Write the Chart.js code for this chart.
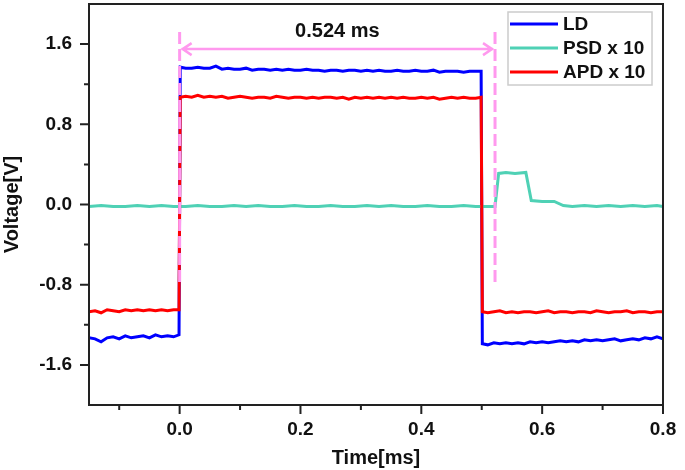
<!DOCTYPE html>
<html>
<head>
<meta charset="utf-8">
<title>LD / PSD / APD pulse response</title>
<script src="https://cdn.jsdelivr.net/npm/chart.js@4.4.1/dist/chart.umd.min.js"></script>
<style>
    html, body { margin: 0; padding: 0; background: #ffffff; }
    #pulseChart { display: block; }
</style>
</head>
<body>
<canvas id="pulseChart" width="685" height="470"></canvas>
<script>
// Time axis (ms) shared by the LD and APD traces
const timeMs = [-0.15, -0.14, -0.13, -0.12, -0.11, -0.10, -0.09, -0.08, -0.07, -0.06, -0.05, -0.04, -0.03, -0.02, -0.01, -0.001,
    0.001, 0.01, 0.02, 0.03, 0.04, 0.05, 0.06, 0.07, 0.08, 0.09, 0.10, 0.11, 0.12, 0.13, 0.14, 0.15, 0.16, 0.17, 0.18, 0.19,
    0.20, 0.21, 0.22, 0.23, 0.24, 0.25, 0.26, 0.27, 0.28, 0.29, 0.30, 0.31, 0.32, 0.33, 0.34, 0.35, 0.36, 0.37, 0.38, 0.39,
    0.40, 0.41, 0.42, 0.43, 0.44, 0.45, 0.46, 0.47, 0.48, 0.49, 0.499,
    0.501, 0.51, 0.52, 0.53, 0.54, 0.55, 0.56, 0.57, 0.58, 0.59, 0.60, 0.61, 0.62, 0.63, 0.64, 0.65, 0.66, 0.67, 0.68, 0.69,
    0.70, 0.71, 0.72, 0.73, 0.74, 0.75, 0.76, 0.77, 0.78, 0.79, 0.80];

// LD voltage (V)
const ldVolt = [-1.33, -1.34, -1.37, -1.33, -1.32, -1.34, -1.31, -1.33, -1.32, -1.31, -1.33, -1.30, -1.32, -1.31, -1.32, -1.30,
    1.37, 1.36, 1.36, 1.37, 1.36, 1.36, 1.38, 1.35, 1.36, 1.35, 1.35, 1.36, 1.34, 1.35, 1.35, 1.34, 1.35, 1.34, 1.35, 1.34,
    1.34, 1.35, 1.34, 1.34, 1.33, 1.34, 1.34, 1.33, 1.34, 1.34, 1.33, 1.34, 1.33, 1.34, 1.33, 1.33, 1.34, 1.33, 1.33, 1.34,
    1.33, 1.33, 1.34, 1.32, 1.33, 1.33, 1.33, 1.32, 1.33, 1.33, 1.33,
    -1.39, -1.40, -1.38, -1.39, -1.38, -1.39, -1.38, -1.39, -1.37, -1.38, -1.37, -1.38, -1.37, -1.36, -1.37, -1.36, -1.37, -1.35, -1.36, -1.35,
    -1.36, -1.35, -1.34, -1.36, -1.35, -1.34, -1.35, -1.33, -1.34, -1.32, -1.34];

// APD voltage x 10 (V)
const apdVolt = [-1.07, -1.06, -1.08, -1.05, -1.06, -1.07, -1.05, -1.06, -1.05, -1.06, -1.05, -1.06, -1.05, -1.06, -1.05, -1.05,
    1.07, 1.08, 1.07, 1.09, 1.07, 1.08, 1.07, 1.08, 1.06, 1.07, 1.08, 1.07, 1.06, 1.07, 1.07, 1.06, 1.08, 1.07, 1.06, 1.07,
    1.07, 1.06, 1.07, 1.06, 1.07, 1.07, 1.06, 1.07, 1.05, 1.07, 1.06, 1.07, 1.06, 1.07, 1.06, 1.07, 1.06, 1.07, 1.06, 1.06,
    1.07, 1.06, 1.07, 1.05, 1.06, 1.07, 1.06, 1.07, 1.06, 1.06, 1.07,
    -1.07, -1.08, -1.07, -1.06, -1.08, -1.07, -1.08, -1.07, -1.07, -1.08, -1.07, -1.06, -1.08, -1.07, -1.07, -1.08, -1.07, -1.07, -1.08, -1.06,
    -1.07, -1.08, -1.07, -1.07, -1.06, -1.08, -1.07, -1.07, -1.08, -1.07, -1.07];

// PSD trace has its own time base (ms)
const psdTime = [-0.15, -0.13, -0.11, -0.09, -0.07, -0.05, -0.03, -0.01, 0.01, 0.03, 0.05, 0.07, 0.09, 0.11, 0.13,
    0.15, 0.17, 0.19, 0.21, 0.23, 0.25, 0.27, 0.29, 0.31, 0.33, 0.35, 0.37, 0.39, 0.41, 0.43, 0.45, 0.47, 0.49, 0.51,
    0.522, 0.528, 0.54, 0.555, 0.573, 0.582, 0.60, 0.62, 0.635,
    0.65, 0.67, 0.69, 0.71, 0.73, 0.75, 0.77, 0.79, 0.80];

// PSD voltage x 10 (V)
const psdVolt = [-0.02, -0.01, -0.02, -0.02, -0.01, -0.02, -0.01, -0.02, -0.02, -0.01, -0.02, -0.02, -0.01, -0.02, -0.01,
    -0.02, -0.02, -0.01, -0.02, -0.02, -0.01, -0.02, -0.02, -0.01, -0.02, -0.01, -0.02, -0.02, -0.01, -0.02, -0.02, -0.01, -0.02, -0.02,
    -0.02, 0.31, 0.32, 0.31, 0.32, 0.04, 0.03, 0.03, -0.01,
    -0.02, -0.01, -0.02, -0.01, -0.02, -0.01, -0.02, -0.01, -0.02];

// Series labels and colours
const seriesNames = ['LD', 'PSD x 10', 'APD x 10'];
const seriesColors = ['#0000ff', '#4fd1b5', '#ff0000'];

// Tick positions (major ones get labels)
const xTickValues = [-0.1, 0.0, 0.1, 0.2, 0.3, 0.4, 0.5, 0.6, 0.7, 0.8];
const xMajorTicks = [0.0, 0.2, 0.4, 0.6, 0.8];
const yTickValues = [-1.6, -1.2, -0.8, -0.4, 0.0, 0.4, 0.8, 1.2, 1.6];
const yMajorTicks = [-1.6, -0.8, 0.0, 0.8, 1.6];

// Pulse width marker
const markerStart = 0.0;
const markerEnd = 0.522;
const markerTop = 1.72;
const markerBottom = -0.8;
const arrowLevel = 1.55;
const markerText = '0.524 ms';
const markerColor = '#ff99ee';

document.addEventListener('DOMContentLoaded', function() {
    Chart.defaults.font.family = '"Liberation Sans", Arial, sans-serif';
    Chart.defaults.font.weight = 'bold';
    Chart.defaults.color = '#111111';
    initializeChart();
});

/**
 * Check whether a value is one of the labelled ticks
 */
function isMajor(value, majors) {
    return majors.some(m => Math.abs(m - value) < 1e-6);
}

/**
 * Drop the automatic label overhang padding so the plot fills the canvas
 */
function noOverhang(scale) {
    scale.paddingTop = 0;
    scale.paddingBottom = 0;
    scale.paddingLeft = 0;
    scale.paddingRight = 0;
}

/**
 * Frame, tick marks, pulse marker and legend drawn over the plot
 */
const decorPlugin = {
    id: 'decor',
    afterDatasetsDraw(chart) {
        const ctx = chart.ctx;
        const area = chart.chartArea;
        const xs = chart.scales.x;
        const ys = chart.scales.y;

        ctx.save();

        // pulse width marker
        const x0 = xs.getPixelForValue(markerStart);
        const x1 = xs.getPixelForValue(markerEnd);
        const yTop = ys.getPixelForValue(markerTop);
        const yBot = ys.getPixelForValue(markerBottom);
        const yArrow = ys.getPixelForValue(arrowLevel);
        ctx.strokeStyle = markerColor;
        ctx.lineWidth = 3;
        ctx.setLineDash([12, 5]);
        ctx.beginPath();
        ctx.moveTo(x0, yTop); ctx.lineTo(x0, yBot);
        ctx.moveTo(x1, yTop); ctx.lineTo(x1, yBot);
        ctx.stroke();
        ctx.setLineDash([]);
        ctx.lineWidth = 2.5;
        ctx.beginPath();
        ctx.moveTo(x0 + 2, yArrow); ctx.lineTo(x1 - 2, yArrow);
        ctx.moveTo(x0 + 12, yArrow - 6); ctx.lineTo(x0 + 3, yArrow); ctx.lineTo(x0 + 12, yArrow + 6);
        ctx.moveTo(x1 - 12, yArrow - 6); ctx.lineTo(x1 - 3, yArrow); ctx.lineTo(x1 - 12, yArrow + 6);
        ctx.stroke();

        ctx.fillStyle = '#111111';
        ctx.font = 'bold 20px "Liberation Sans", Arial, sans-serif';
        ctx.textAlign = 'center';
        ctx.textBaseline = 'middle';
        ctx.fillText(markerText, (x0 + x1) / 2, 31);

        // frame
        ctx.strokeStyle = '#222222';
        ctx.lineWidth = 2;
        ctx.strokeRect(area.left, area.top, area.right - area.left, area.bottom - area.top);

        // tick marks, outward
        ctx.beginPath();
        xs.ticks.forEach(t => {
            const px = xs.getPixelForValue(t.value);
            const len = isMajor(t.value, xMajorTicks) ? 9 : 5;
            ctx.moveTo(px, area.bottom); ctx.lineTo(px, area.bottom + len);
        });
        ys.ticks.forEach(t => {
            const py = ys.getPixelForValue(t.value);
            const len = isMajor(t.value, yMajorTicks) ? 9 : 5;
            ctx.moveTo(area.left, py); ctx.lineTo(area.left - len, py);
        });
        ctx.stroke();

        // legend box
        const lx = 508, ly = 12, lw = 144, lh = 73;
        ctx.fillStyle = '#ffffff';
        ctx.fillRect(lx, ly, lw, lh);
        ctx.strokeStyle = '#cccccc';
        ctx.lineWidth = 1.5;
        ctx.strokeRect(lx, ly, lw, lh);
        ctx.font = 'bold 19px "Liberation Sans", Arial, sans-serif';
        ctx.textAlign = 'left';
        ctx.lineWidth = 3;
        chart.data.datasets.forEach((ds, i) => {
            const rowY = ly + 12 + i * 24;
            ctx.strokeStyle = ds.borderColor;
            ctx.beginPath();
            ctx.moveTo(lx + 2, rowY); ctx.lineTo(lx + 50, rowY);
            ctx.stroke();
            ctx.fillStyle = '#111111';
            ctx.fillText(ds.label, lx + 55, rowY + 1);
        });

        ctx.restore();
    }
};

/**
 * Build the line chart
 */
function initializeChart() {
    const ctx = document.getElementById('pulseChart').getContext('2d');

    const seriesData = [
        timeMs.map((t, i) => ({ x: t, y: ldVolt[i] })),
        psdTime.map((t, i) => ({ x: t, y: psdVolt[i] })),
        timeMs.map((t, i) => ({ x: t, y: apdVolt[i] }))
    ];

    new Chart(ctx, {
        type: 'line',
        data: {
            datasets: seriesNames.map((name, i) => ({
                label: name,
                data: seriesData[i],
                borderColor: seriesColors[i],
                backgroundColor: seriesColors[i],
                borderWidth: 3,
                pointRadius: 0,
                tension: 0,
                order: 3 - i
            }))
        },
        options: {
            responsive: false,
            animation: false,
            layout: {
                padding: { left: 0, top: 4, right: 22, bottom: 0 }
            },
            scales: {
                x: {
                    type: 'linear',
                    min: -0.15,
                    max: 0.8,
                    afterBuildTicks: scale => {
                        scale.ticks = xTickValues.map(v => ({ value: v }));
                    },
                    afterFit: scale => {
                        scale.height = 65;
                        noOverhang(scale);
                    },
                    grid: { display: false, drawTicks: false },
                    border: { display: false },
                    ticks: {
                        autoSkip: false,
                        maxRotation: 0,
                        padding: 13,
                        color: '#111111',
                        font: { size: 19, weight: 'bold' },
                        callback: value => isMajor(value, xMajorTicks) ? value.toFixed(1) : ''
                    },
                    title: {
                        display: true,
                        text: 'Time[ms]',
                        color: '#111111',
                        padding: 0,
                        font: { size: 20, weight: 'bold' }
                    }
                },
                y: {
                    type: 'linear',
                    min: -2,
                    max: 2,
                    afterBuildTicks: scale => {
                        scale.ticks = yTickValues.map(v => ({ value: v }));
                    },
                    afterFit: scale => {
                        scale.width = 89;
                        noOverhang(scale);
                    },
                    grid: { display: false, drawTicks: false },
                    border: { display: false },
                    ticks: {
                        autoSkip: false,
                        padding: 17,
                        color: '#111111',
                        font: { size: 19, weight: 'bold' },
                        callback: value => isMajor(value, yMajorTicks) ? value.toFixed(1) : ''
                    },
                    title: {
                        display: true,
                        text: 'Voltage[V]',
                        color: '#111111',
                        padding: 0,
                        font: { size: 20, weight: 'bold' }
                    }
                }
            },
            plugins: {
                legend: { display: false },
                tooltip: { enabled: false }
            }
        },
        plugins: [decorPlugin]
    });
}
</script>
</body>
</html>
